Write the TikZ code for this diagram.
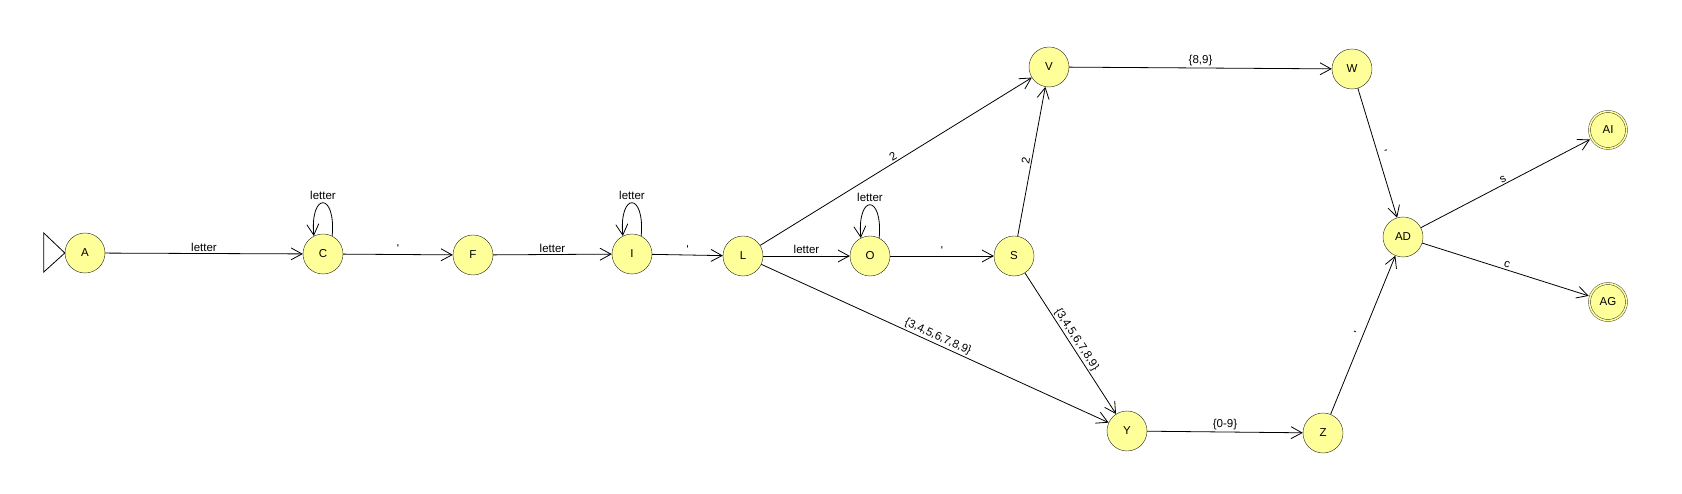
\documentclass[tikz,border=0pt]{standalone}
\usepackage{fontspec}
\setmainfont{Liberation Sans}
\usetikzlibrary{arrows.meta}
\definecolor{stateyellow}{RGB}{255,255,153}

\begin{document}
\begin{tikzpicture}[x=1pt,y=1pt,
       every node/.style={font=\fontsize{11.5}{13}\selectfont},
       state/.style={circle,draw=black!85,fill=stateyellow,minimum size=40pt,inner sep=0pt},
       final/.style={state,double=stateyellow,double distance=1.6pt,minimum size=37pt,outer sep=1.8pt},
       >={Straight Barb[length=11pt,width=12pt]},
       every edge/.style={draw,->,line width=0.8pt},
       lbl/.style={above,sloped,inner sep=1.5pt},
       selfloop/.style={out=85,in=95,looseness=6.2}]
    \useasboundingbox (0,0) rectangle (1682,493);
    \node[state] (A) at (85,240) {A};
    \node[state] (C) at (323,239) {C};
    \node[state] (F) at (473,238) {F};
    \node[state] (I) at (632,239) {I};
    \node[state] (L) at (743,237) {L};
    \node[state] (O) at (870,237) {O};
    \node[state] (S) at (1014,237) {S};
    \node[state] (V) at (1049,426) {V};
    \node[state] (W) at (1352,424) {W};
    \node[state] (Y) at (1127,62) {Y};
    \node[state] (Z) at (1323,60) {Z};
    \node[state] (AD) at (1403,256) {AD};
    \node[final] (AI) at (1608,363) {AI};
    \node[final] (AG) at (1608,191) {AG};
    \draw[line width=0.8pt] (A.west) -- ++(-21,20) -- ++(0,-39) -- cycle;
    \path (A) edge node[lbl] {letter} (C)
          (C.63) edge[selfloop] node[above] {letter} (C.117)
          (C) edge node[lbl] {\textquotesingle} (F)
          (F) edge node[lbl] {letter} (I)
          (I.63) edge[selfloop] node[above] {letter} (I.117)
          (I) edge node[lbl] {\textquotesingle} (L)
          (L) edge node[lbl] {letter} (O)
          (L) edge node[lbl] {2} (V)
          (L) edge node[lbl] {\{3,4,5,6,7,8,9\}} (Y)
          (O.63) edge[selfloop] node[above] {letter} (O.117)
          (O) edge node[lbl] {\textquotesingle} (S)
          (S) edge node[lbl] {2} (V)
          (S) edge node[lbl] {\{3,4,5,6,7,8,9\}} (Y)
          (V) edge node[lbl] {\{8,9\}} (W)
          (Y) edge node[lbl] {\{0-9\}} (Z)
          (W) edge node[lbl] {\textquotesingle} (AD)
          (Z) edge node[lbl] {\textquotesingle} (AD)
          (AD) edge node[lbl] {s} (AI)
          (AD) edge node[lbl] {c} (AG);
\end{tikzpicture}
\end{document}
